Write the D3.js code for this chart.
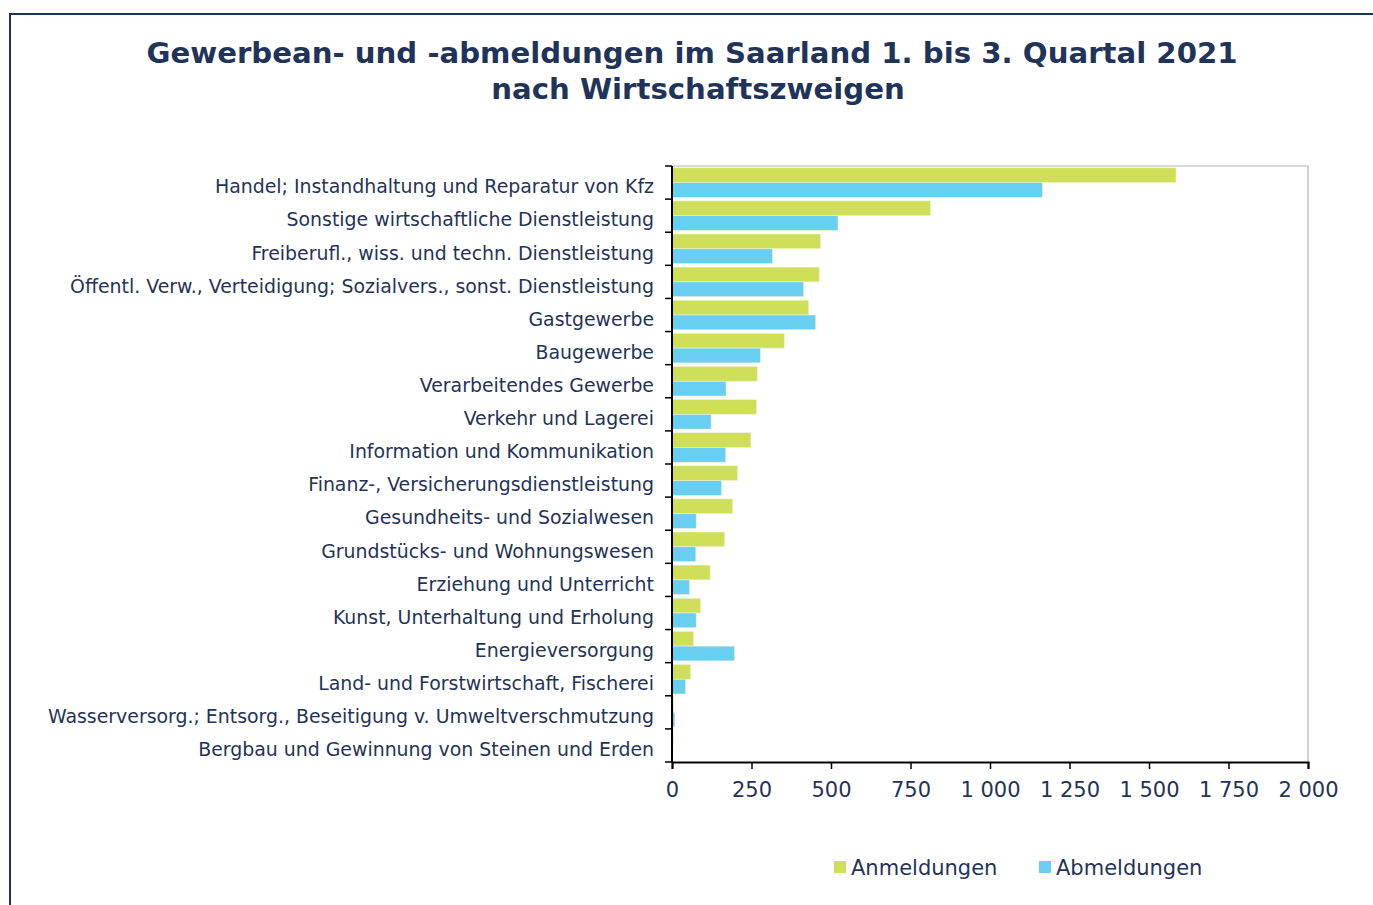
<!DOCTYPE html>
<html>
<head>
	<meta charset="utf-8">
	<title>Gewerbean- und -abmeldungen Saarland 2021</title>
	<script src="https://cdn.jsdelivr.net/npm/d3@7/dist/d3.min.js"></script>
	<style>
		body { margin: 0; background: #fff; }
		text { font-family: "DejaVu Sans", Verdana, sans-serif; fill: #1f3458; }
	</style>
</head>
<body>
	<svg id="chart" width="1373" height="905"></svg>

	<script type="text/javascript">
		// Wirtschaftszweige, sortiert wie in der Vorlage
		var branchen = [
			"Handel; Instandhaltung und Reparatur von Kfz",
			"Sonstige wirtschaftliche Dienstleistung",
			"Freiberufl., wiss. und techn. Dienstleistung",
			"Öffentl. Verw., Verteidigung; Sozialvers., sonst. Dienstleistung",
			"Gastgewerbe",
			"Baugewerbe",
			"Verarbeitendes Gewerbe",
			"Verkehr und Lagerei",
			"Information und Kommunikation",
			"Finanz-, Versicherungsdienstleistung",
			"Gesundheits- und Sozialwesen",
			"Grundstücks- und Wohnungswesen",
			"Erziehung und Unterricht",
			"Kunst, Unterhaltung und Erholung",
			"Energieversorgung",
			"Land- und Forstwirtschaft, Fischerei",
			"Wasserversorg.; Entsorg., Beseitigung v. Umweltverschmutzung",
			"Bergbau und Gewinnung von Steinen und Erden"
		];
		var anmeldungen = [1585, 813, 467, 463, 430, 353, 268, 266, 248, 206, 191, 166, 120, 90, 68, 59, 5, 4];
		var abmeldungen = [1165, 522, 316, 414, 452, 278, 170, 123, 169, 156, 76, 75, 55, 76, 197, 43, 9, 1];
		var serien = ["Anmeldungen", "Abmeldungen"];
		var xTicks = [0, 250, 500, 750, 1000, 1250, 1500, 1750, 2000];

		var farben = { Anmeldungen: "#cfdf5a", Abmeldungen: "#68cef2" };

		var svg = d3.select('#chart');

		// Rahmen (oben und links)
		svg.append('path')
			.attr('d', 'M10,910 V14 H1380')
			.attr('fill', 'none')
			.attr('stroke', '#1f3458')
			.attr('stroke-width', 2);

		svg.append('text')
			.attr('x', 692).attr('y', 63)
			.attr('text-anchor', 'middle')
			.style('font-size', '29.2px').style('font-weight', 'bold')
			.text('Gewerbean- und -abmeldungen im Saarland 1. bis 3. Quartal 2021');
		svg.append('text')
			.attr('x', 698).attr('y', 99)
			.attr('text-anchor', 'middle')
			.style('font-size', '29.2px').style('font-weight', 'bold')
			.text('nach Wirtschaftszweigen');

		var plotLeft = 672, plotRight = 1308, plotTop = 166, plotBottom = 762;

		var x = d3.scaleLinear().domain([0, 2000]).range([plotLeft, plotRight]);
		var y = d3.scaleBand().domain(branchen).range([plotTop, plotBottom]);
		var ySub = d3.scaleBand().domain(serien).range([0, y.bandwidth()]).paddingInner(0).paddingOuter(0.12);

		// Plotbereich-Rahmen rechts und oben
		svg.append('path')
			.attr('d', 'M' + plotLeft + ',' + plotTop + ' H' + plotRight + ' V' + plotBottom)
			.attr('fill', 'none')
			.attr('stroke', '#b5b5b5')
			.attr('stroke-width', 1.2);

		var rows = branchen.map((b, i) => ({ name: b, Anmeldungen: anmeldungen[i], Abmeldungen: abmeldungen[i] }));

		var g = svg.append('g')
			.selectAll('g')
			.data(rows)
			.enter()
			.append('g')
			.attr('transform', d => 'translate(0,' + y(d.name) + ')');

		g.selectAll('rect')
			.data(d => serien.map(s => ({ key: s, value: d[s] })))
			.enter()
			.append('rect')
			.attr('x', x(0))
			.attr('y', d => ySub(d.key))
			.attr('width', d => x(d.value) - x(0))
			.attr('height', ySub.bandwidth())
			.attr('fill', d => farben[d.key])
			.attr('stroke', '#eef6d0')
			.attr('stroke-width', 0.6);

		// Kategorienbeschriftung
		svg.append('g')
			.selectAll('text')
			.data(branchen)
			.enter()
			.append('text')
			.attr('x', 654)
			.attr('y', d => y(d) + y.bandwidth() / 2 + 4)
			.attr('dy', '0.36em')
			.attr('text-anchor', 'end')
			.style('font-size', '18.9px')
			.text(d => d);

		// y-Achse mit Teilstrichen an den Bandgrenzen
		var grenzen = branchen.map(b => y(b)).concat([plotBottom]);
		svg.append('g')
			.selectAll('line')
			.data(grenzen)
			.enter()
			.append('line')
			.attr('x1', plotLeft - 7).attr('x2', plotLeft)
			.attr('y1', d => d).attr('y2', d => d)
			.attr('stroke', '#000').attr('stroke-width', 1.5);
		svg.append('line')
			.attr('x1', plotLeft).attr('x2', plotLeft)
			.attr('y1', plotTop).attr('y2', plotBottom)
			.attr('stroke', '#000').attr('stroke-width', 2);

		// x-Achse
		var xAxis = d3.axisBottom(x)
			.tickValues(xTicks)
			.tickSize(7)
			.tickPadding(13)
			.tickFormat(d => d3.format(',')(d).replace(',', ' '));

		var ax = svg.append('g')
			.attr('transform', 'translate(0,' + plotBottom + ')')
			.call(xAxis);
		ax.select('.domain').attr('stroke', '#000').attr('stroke-width', 2);
		ax.selectAll('.tick line').attr('stroke', '#000').attr('stroke-width', 1.5);
		ax.selectAll('.tick text')
			.style('font-size', '21px')
			.style('font-family', '"DejaVu Sans", Verdana, sans-serif')
			.attr('fill', '#1f3458');

		// Legende
		var legende = [{ key: "Anmeldungen", x: 834 }, { key: "Abmeldungen", x: 1039 }];
		var lg = svg.append('g')
			.selectAll('g')
			.data(legende)
			.enter()
			.append('g')
			.attr('transform', d => 'translate(' + d.x + ',861)');
		lg.append('rect')
			.attr('width', 12).attr('height', 12)
			.attr('fill', d => farben[d.key]);
		lg.append('text')
			.attr('x', 17).attr('y', 6)
			.attr('dy', '0.36em')
			.style('font-size', '21px')
			.text(d => d.key);
	</script>
</body>
</html>
